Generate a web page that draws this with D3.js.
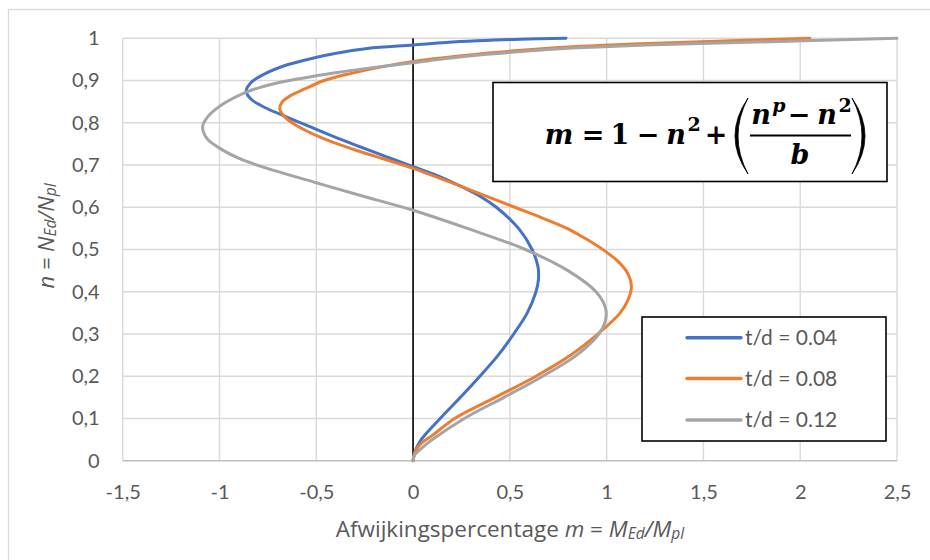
<!DOCTYPE html>
<html>
<head>
<meta charset="utf-8">
<script src="https://cdn.jsdelivr.net/npm/d3@7"></script>
<style>
  html, body { margin: 0; padding: 0; background: #fff; }
  svg { display: block; }
  .tick text { font-family: Lato, "Open Sans", sans-serif; fill: #595959; }
</style>
</head>
<body>
<svg id="chart" width="930" height="560"></svg>
<script>
// Axis ticks
const xTicks = [-1.5, -1, -0.5, 0, 0.5, 1, 1.5, 2, 2.5];
const xTickLabels = ["-1,5", "-1", "-0,5", "0", "0,5", "1", "1,5", "2", "2,5"];
const yTicks = [0, 0.1, 0.2, 0.3, 0.4, 0.5, 0.6, 0.7, 0.8, 0.9, 1];
const yTickLabels = ["0", "0,1", "0,2", "0,3", "0,4", "0,5", "0,6", "0,7", "0,8", "0,9", "1"];

// Series names and colours
const seriesNames = ["t/d = 0.04", "t/d = 0.08", "t/d = 0.12"];
const seriesColors = ["#4472C4", "#ED7D31", "#A5A5A5"];

// t/d = 0.04 : n = NEd/Npl and m = MEd/Mpl along the curve
const nA = [0, 0.01, 0.025, 0.05, 0.1, 0.15, 0.2, 0.25, 0.3, 0.35, 0.4, 0.43, 0.46, 0.5, 0.55, 0.6, 0.625,
            0.65, 0.675, 0.696, 0.72, 0.745, 0.77, 0.795, 0.815, 0.835, 0.855, 0.875, 0.895, 0.915,
            0.935, 0.95, 0.964, 0.976, 0.984, 0.99, 0.994, 0.998, 1.0];
const mA = [0, 0.004, 0.013, 0.042, 0.14, 0.245, 0.345, 0.44, 0.52, 0.59, 0.635, 0.648, 0.645, 0.615, 0.545, 0.43, 0.35,
            0.245, 0.125, 0, -0.14, -0.285, -0.425, -0.555, -0.66, -0.76, -0.835, -0.862, -0.838, -0.77,
            -0.665, -0.545, -0.405, -0.237, 0, 0.17, 0.33, 0.55, 0.79];

// t/d = 0.08
const nB = [0, 0.012, 0.025, 0.04, 0.06, 0.1, 0.15, 0.2, 0.25, 0.3, 0.35, 0.38, 0.412, 0.44, 0.47, 0.5, 0.53, 0.55,
            0.575, 0.6, 0.65, 0.692, 0.705, 0.72, 0.735, 0.75, 0.765, 0.783, 0.8, 0.815, 0.832, 0.85, 0.865,
            0.88, 0.9, 0.917, 0.933, 0.945, 0.955, 0.965, 0.974, 0.981, 0.986, 0.9915, 1.0];
const mB = [0, 0.004, 0.014, 0.04, 0.1, 0.215, 0.425, 0.635, 0.815, 0.955, 1.07, 1.11, 1.128, 1.113, 1.063, 0.98, 0.875, 0.795,
            0.665, 0.525, 0.245, 0, -0.085, -0.19, -0.295, -0.39, -0.475, -0.56, -0.625, -0.665, -0.688, -0.675, -0.63,
            -0.56, -0.46, -0.32, -0.155, 0, 0.18, 0.39, 0.63, 0.87, 1.12, 1.45, 2.05];

// t/d = 0.12
const nC = [0, 0.008, 0.016, 0.03, 0.05, 0.1, 0.15, 0.2, 0.25, 0.3, 0.33, 0.36, 0.4, 0.45, 0.5, 0.55, 0.593, 0.629,
            0.658, 0.686, 0.712, 0.74, 0.763, 0.791, 0.814, 0.846, 0.874, 0.89, 0.905, 0.918, 0.93,
            0.942, 0.952, 0.962, 0.971, 0.978, 0.984, 0.992, 1.0];
const mC = [0, 0.003, 0.012, 0.045, 0.1, 0.265, 0.47, 0.67, 0.845, 0.96, 0.993, 0.995, 0.945, 0.80, 0.58, 0.28, 0, -0.28,
            -0.5, -0.71, -0.88, -1.0, -1.065, -1.087, -1.061, -0.976, -0.855, -0.74, -0.58, -0.41, -0.22,
            0, 0.17, 0.38, 0.63, 0.88, 1.2, 1.85, 2.5];

const seriesN = [nA, nB, nC];
const seriesM = [mA, mB, mC];

const svg = d3.select("#chart");
const W = 930, H = 560;

// Chart frame
svg.append("rect")
  .attr("x", 8.5).attr("y", 9.5).attr("width", W).attr("height", H)
  .attr("fill", "#fff").attr("stroke", "#d9d9d9").attr("stroke-width", 1.3);

const x = d3.scaleLinear().domain([-1.5, 2.5]).range([122.7, 897]);
const y = d3.scaleLinear().domain([0, 1]).range([460.7, 38.3]);

// Gridlines
const grid = svg.append("g");
grid.selectAll("line.v").data(xTicks).join("line")
  .attr("x1", d => x(d)).attr("x2", d => x(d))
  .attr("y1", y(1)).attr("y2", y(0))
  .attr("stroke", "#d9d9d9").attr("stroke-width", 1.4);
grid.selectAll("line.h").data(yTicks.slice(1)).join("line")
  .attr("x1", x(-1.5)).attr("x2", x(2.5))
  .attr("y1", d => y(d)).attr("y2", d => y(d))
  .attr("stroke", "#d9d9d9").attr("stroke-width", 1.4);

// Horizontal axis line at n = 0
svg.append("line")
  .attr("x1", x(-1.5)).attr("x2", x(2.5))
  .attr("y1", y(0)).attr("y2", y(0))
  .attr("stroke", "#bfbfbf").attr("stroke-width", 1.4);

// Axes (labels only)
const xAxis = d3.axisBottom(x).tickValues(xTicks)
  .tickFormat((d, i) => xTickLabels[i]).tickSize(0).tickPadding(24);
svg.append("g").attr("transform", `translate(0,${y(0)})`).call(xAxis)
  .call(g => g.select(".domain").remove())
  .selectAll("text").attr("font-size", 20);

const yAxis = d3.axisLeft(y).tickValues(yTicks)
  .tickFormat((d, i) => yTickLabels[i]).tickSize(0).tickPadding(23);
svg.append("g").attr("transform", `translate(${x(-1.5)},0)`).call(yAxis)
  .call(g => g.select(".domain").remove())
  .selectAll("text").attr("font-size", 20);

// Vertical line at m = 0
svg.append("line")
  .attr("x1", x(0)).attr("x2", x(0))
  .attr("y1", y(1)).attr("y2", y(0))
  .attr("stroke", "#000").attr("stroke-width", 1.6);

// Curves
const line = d3.line()
  .x(d => x(d[0])).y(d => y(d[1]))
  .curve(d3.curveCatmullRom.alpha(0.5));

seriesNames.forEach((name, i) => {
  const pts = seriesM[i].map((m, j) => [m, seriesN[i][j]]);
  svg.append("path")
    .datum(pts)
    .attr("d", line)
    .attr("fill", "none")
    .attr("stroke", seriesColors[i])
    .attr("stroke-width", 3)
    .attr("stroke-linejoin", "round")
    .attr("stroke-linecap", "round");
});

// Axis titles
const titleFont = "'Open Sans', Lato, sans-serif";
const xTitle = svg.append("text")
  .attr("x", 510).attr("y", 537)
  .attr("text-anchor", "middle")
  .attr("font-family", titleFont)
  .attr("font-size", 22.5).attr("fill", "#595959");
xTitle.append("tspan").text("Afwijkingspercentage ");
xTitle.append("tspan").attr("font-style", "italic").text("m");
xTitle.append("tspan").text(" = ");
xTitle.append("tspan").attr("font-style", "italic").text("M");
xTitle.append("tspan").attr("font-style", "italic").attr("font-size", 15.5).attr("dy", 2).text("Ed");
xTitle.append("tspan").attr("font-style", "italic").attr("dy", -2).text("/M");
xTitle.append("tspan").attr("font-style", "italic").attr("font-size", 15.5).attr("dy", 2).text("pl");

const yTitle = svg.append("text")
  .attr("transform", "translate(54,236) rotate(-90)")
  .attr("text-anchor", "middle")
  .attr("font-family", titleFont)
  .attr("font-size", 22).attr("fill", "#595959")
  .attr("font-style", "italic");
yTitle.append("tspan").text("n = N");
yTitle.append("tspan").attr("font-size", 15.5).attr("dy", 2).text("Ed");
yTitle.append("tspan").attr("dy", -2).text("/N");
yTitle.append("tspan").attr("font-size", 15.5).attr("dy", 2).text("pl");

// Formula box: m = 1 − n² + ((nᵖ − n²) / b)
const fb = svg.append("g");
fb.append("rect")
  .attr("x", 493).attr("y", 82.5).attr("width", 394).attr("height", 99)
  .attr("fill", "#fff").attr("stroke", "#000").attr("stroke-width", 1.6);
const mathFont = "'DejaVu Serif', 'Liberation Serif', serif";
const tokens = [
  { t: "m", cx: 559, by: 144, it: true, fs: 27 },
  { t: "=", cx: 593, by: 144, it: false, fs: 27 },
  { t: "1", cx: 620, by: 144, it: false, fs: 27 },
  { t: "−", cx: 648, by: 144, it: false, fs: 27 },
  { t: "n", cx: 676, by: 144, it: true, fs: 27 },
  { t: "2", cx: 694, by: 131, it: false, fs: 19 },
  { t: "+", cx: 716, by: 144, it: false, fs: 27 },
  { t: "n", cx: 761, by: 124, it: true, fs: 27 },
  { t: "p", cx: 779, by: 112, it: true, fs: 19 },
  { t: "−", cx: 799, by: 124, it: false, fs: 27 },
  { t: "n", cx: 827, by: 124, it: true, fs: 27 },
  { t: "2", cx: 845, by: 112, it: false, fs: 19 },
  { t: "b", cx: 800, by: 164, it: true, fs: 27 }
];
fb.selectAll("text.tok").data(tokens).join("text")
  .attr("x", d => d.cx).attr("y", d => d.by)
  .attr("text-anchor", "middle")
  .attr("font-family", mathFont).attr("font-weight", "bold")
  .attr("font-style", d => d.it ? "italic" : "normal")
  .attr("font-size", d => d.fs).attr("fill", "#000")
  .text(d => d.t);
// Large parentheses
fb.append("path")
  .attr("d", "M748,98 Q722,136 748,174 Q728,136 748,98 Z")
  .attr("fill", "#000").attr("stroke", "#000").attr("stroke-width", 0.8);
fb.append("path")
  .attr("d", "M852,98 Q878,136 852,174 Q872,136 852,98 Z")
  .attr("fill", "#000").attr("stroke", "#000").attr("stroke-width", 0.8);
// Fraction bar
fb.append("line")
  .attr("x1", 750).attr("x2", 851).attr("y1", 135.5).attr("y2", 135.5)
  .attr("stroke", "#000").attr("stroke-width", 1.8);

// Legend
const lg = svg.append("g");
lg.append("rect")
  .attr("x", 642).attr("y", 317).attr("width", 244).attr("height", 124)
  .attr("fill", "#fff").attr("stroke", "#000").attr("stroke-width", 1.6);
const legendY = [337.7, 378.5, 420];
seriesNames.forEach((name, i) => {
  lg.append("line")
    .attr("x1", 687).attr("x2", 741)
    .attr("y1", legendY[i]).attr("y2", legendY[i])
    .attr("stroke", seriesColors[i]).attr("stroke-width", 3.4)
    .attr("stroke-linecap", "round");
  lg.append("text")
    .attr("x", 745).attr("y", legendY[i])
    .attr("dy", "0.35em")
    .attr("font-family", "Lato, 'Open Sans', sans-serif")
    .attr("font-size", 21).attr("fill", "#595959")
    .text(name);
});
</script>
</body>
</html>
